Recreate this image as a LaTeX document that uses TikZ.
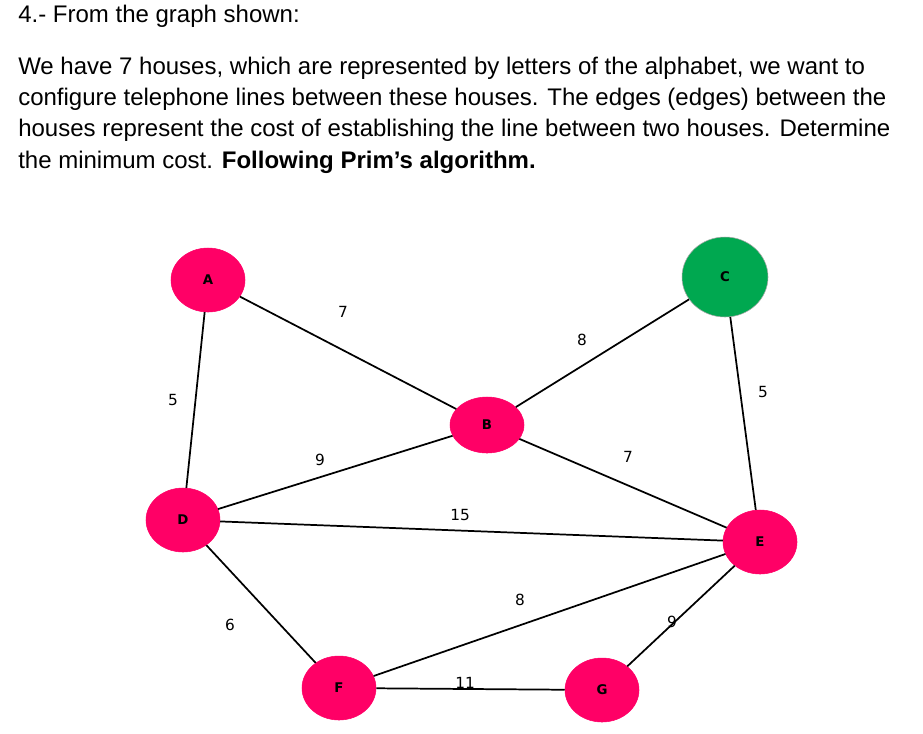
\documentclass[tikz,border=0pt]{standalone}
\usepackage{fontspec}
\setmainfont{Liberation Sans}
\newfontfamily\graphfont{DejaVu Sans}
\usetikzlibrary{shapes.geometric}
\definecolor{hpink}{RGB}{255,0,102}
\definecolor{hgreen}{RGB}{0,168,80}
\begin{document}
\begin{tikzpicture}[x=0.75pt,y=-0.75pt,
  house/.style={ellipse,fill=hpink,draw=hpink,minimum width=74pt*0.75,minimum height=64pt*0.75,inner sep=0pt,font=\graphfont\bfseries\fontsize{10}{12}\selectfont},
  edge/.style={line width=1.3pt,black},
  wt/.style={font=\graphfont\fontsize{11.5}{14}\selectfont},
  txt/.style={anchor=west,inner sep=0pt,font=\fontsize{18}{22}\selectfont}]
\useasboundingbox (0,0) rectangle (923,733);
\node[txt] (t0) at (18,16) {4.- From the graph shown:};
\node[txt] (t1) at (18,68) {We have 7 houses, which are represented by letters of the alphabet, we want to};
\node[txt] (t2) at (18,99) {configure telephone lines between these houses. The edges (edges) between the};
\node[txt] (t3) at (18,130) {houses represent the cost of establishing the line between two houses. Determine};
\node[txt] (t4) at (18,162) {the minimum cost. \textbf{Following Prim's algorithm.}};
\node[house] (A) at (208,280) {A};
\node[house,fill=hgreen,draw=gray!70,minimum width=86pt*0.75,minimum height=80pt*0.75] (C) at (725,277) {C};
\node[house,minimum height=56pt*0.75] (B) at (487,425) {B};
\node[house] (D) at (183,520) {D};
\node[house] (E) at (760,542) {E};
\node[house] (F) at (339,688) {F};
\node[house] (G) at (602,690) {G};
\draw[edge] (A) -- (B);
\draw[edge] (B) -- (C);
\draw[edge] (A) -- (D);
\draw[edge] (C) -- (E);
\draw[edge] (B) -- (D);
\draw[edge] (B) -- (E);
\draw[edge] (D) -- (E);
\draw[edge] (F) -- (E);
\draw[edge] (D) -- (F);
\draw[edge] (G) -- (E);
\draw[edge] (F) -- (G);
\node[wt] (w1) at (343,312) {7};
\node[wt] (w2) at (582,340) {8};
\node[wt] (w3) at (173,400) {5};
\node[wt] (w4) at (763,392) {5};
\node[wt] (w5) at (320,460) {9};
\node[wt] (w6) at (628,457) {7};
\node[wt] (w7) at (460,515) {15};
\node[wt] (w8) at (520,600) {8};
\node[wt] (w9) at (230,625) {6};
\node[wt] (w10) at (672,622) {9};
\node[wt] (w11) at (465,683) {11};
\end{tikzpicture}
\end{document}
